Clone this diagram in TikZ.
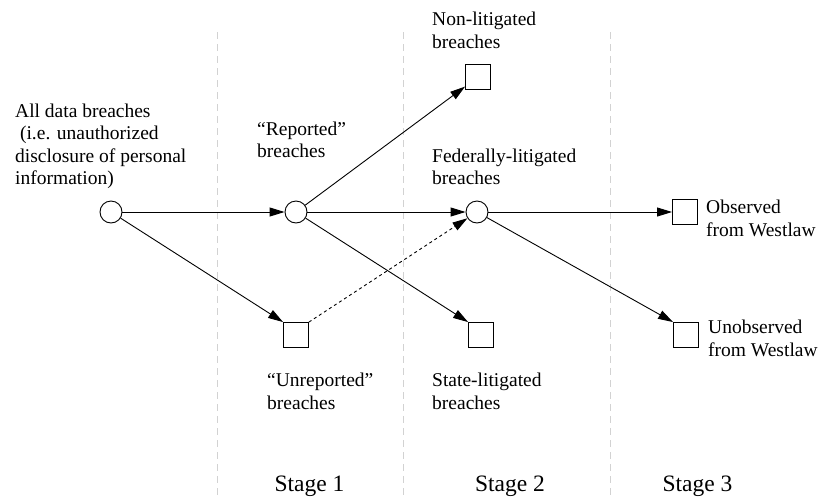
\documentclass[tikz,border=0pt]{standalone}
\usepackage{fontspec}
\setmainfont{Liberation Serif}
\usetikzlibrary{arrows.meta}
\tikzset{
  chance/.style={circle, draw, line width=0.9pt, minimum size=22pt, inner sep=0pt},
  leafbox/.style={rectangle, draw, line width=0.9pt, minimum size=25pt, inner sep=0pt},
  lbl/.style={align=left, anchor=base west, inner sep=0pt, font=\fontsize{19.5}{22.5}\selectfont},
  stagelbl/.style={anchor=base, inner sep=0pt, font=\fontsize{23.5}{26}\selectfont},
  flow/.style={line width=0.9pt, -{Triangle[length=15pt,width=9pt]}},
  sep/.style={gray!35, line width=1pt, dash pattern=on 7pt off 5pt},
}
\begin{document}
\begin{tikzpicture}[x=1pt, y=-1pt]
\useasboundingbox (0,0) rectangle (820,499);
% stage separators
\coordinate (s1t) at (217,32); \coordinate (s1b) at (217,499);
\coordinate (s2t) at (403,32); \coordinate (s2b) at (403,499);
\coordinate (s3t) at (610,32); \coordinate (s3b) at (610,499);
\draw[sep] (s1t) -- (s1b);
\draw[sep] (s2t) -- (s2b);
\draw[sep] (s3t) -- (s3b);
% nodes
\node[chance] (A) at (111,212) {};
\node[chance] (R) at (296,212) {};
\node[chance] (F) at (477,212) {};
\node[leafbox] (NL) at (478,77) {};
\node[leafbox] (U) at (296,335) {};
\node[leafbox] (S) at (481,335) {};
\node[leafbox] (O) at (685,212) {};
\node[leafbox] (UO) at (686,335) {};
% labels (base anchor = baseline of last line)
\node[lbl] (lA) at (15,184.5) {All data breaches\\\ (i.e. unauthorized\\disclosure of personal\\information)};
\node[lbl] (lR) at (257,157.5) {``Reported''\\breaches};
\node[lbl] (lNL) at (432,48) {Non-litigated\\breaches};
\node[lbl] (lF) at (432,184.5) {Federally-litigated\\breaches};
\node[lbl] (lU) at (267,409) {``Unreported''\\breaches};
\node[lbl] (lS) at (432,409) {State-litigated\\breaches};
\node[lbl] (lO) at (706,236) {Observed\\from Westlaw};
\node[lbl] (lUO) at (708,356) {Unobserved\\from Westlaw};
\node[stagelbl] (st1) at (309.5,491) {Stage 1};
\node[stagelbl] (st2) at (510,491) {Stage 2};
\node[stagelbl] (st3) at (697.5,491) {Stage 3};
% connectors
\draw[flow] (A) -- (R);
\draw[flow] (A) -- (U.north west);
\draw[flow] (R) -- (NL);
\draw[flow] (R) -- (F);
\draw[flow] (R) -- (S.north west);
\draw[flow, dashed] (U.north east) -- (F);
\draw[flow] (F) -- (O);
\draw[flow] (F) -- (UO.north west);
\end{tikzpicture}
\end{document}
